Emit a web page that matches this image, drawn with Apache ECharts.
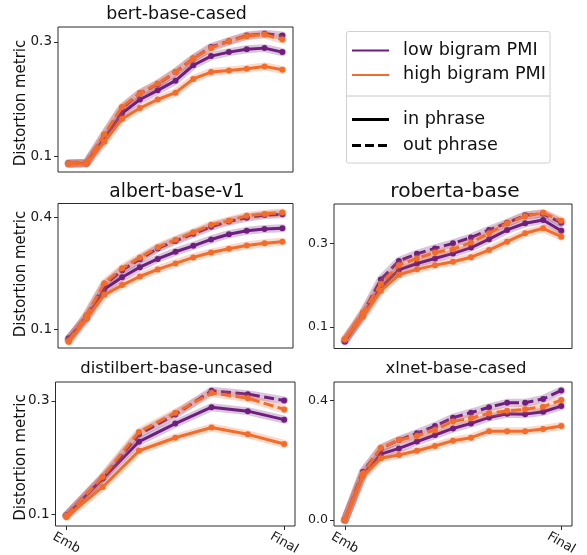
<!DOCTYPE html>
<html>
<head>
<meta charset="utf-8">
<script src="https://cdn.jsdelivr.net/npm/echarts@6/dist/echarts.min.js"></script>
<style>
  html, body { margin: 0; padding: 0; background: #fff; }
  #chart { width: 587px; height: 555px; }
</style>
</head>
<body>
<div id="chart"></div>
<script>
// Distortion per layer, from the embedding layer (Emb) to the final layer.
const bertLowIn   = [0.087, 0.087, 0.131, 0.175, 0.199, 0.215, 0.232, 0.259, 0.275, 0.282, 0.287, 0.289, 0.282];
const bertLowOut  = [0.087, 0.088, 0.137, 0.184, 0.210, 0.226, 0.247, 0.271, 0.291, 0.301, 0.311, 0.314, 0.311];
const bertHighIn  = [0.086, 0.087, 0.125, 0.165, 0.184, 0.199, 0.211, 0.235, 0.247, 0.250, 0.253, 0.257, 0.251];
const bertHighOut = [0.087, 0.088, 0.138, 0.186, 0.210, 0.227, 0.247, 0.271, 0.289, 0.301, 0.310, 0.313, 0.304];

const albertLowIn   = [0.077, 0.130, 0.208, 0.240, 0.267, 0.289, 0.308, 0.324, 0.341, 0.355, 0.364, 0.369, 0.371];
const albertLowOut  = [0.074, 0.137, 0.219, 0.259, 0.288, 0.317, 0.337, 0.356, 0.375, 0.389, 0.399, 0.406, 0.408];
const albertHighIn  = [0.068, 0.130, 0.193, 0.219, 0.242, 0.261, 0.277, 0.293, 0.306, 0.316, 0.325, 0.331, 0.335];
const albertHighOut = [0.070, 0.139, 0.224, 0.264, 0.293, 0.320, 0.340, 0.360, 0.380, 0.391, 0.404, 0.409, 0.413];

const robertaLowIn   = [0.067, 0.128, 0.195, 0.237, 0.252, 0.264, 0.276, 0.290, 0.310, 0.332, 0.348, 0.356, 0.330];
const robertaLowOut  = [0.066, 0.133, 0.214, 0.258, 0.275, 0.288, 0.300, 0.314, 0.332, 0.349, 0.367, 0.371, 0.349];
const robertaHighIn  = [0.071, 0.125, 0.187, 0.225, 0.238, 0.248, 0.256, 0.267, 0.284, 0.304, 0.324, 0.336, 0.316];
const robertaHighOut = [0.071, 0.135, 0.203, 0.248, 0.264, 0.278, 0.286, 0.302, 0.324, 0.348, 0.365, 0.373, 0.354];

const distilLowIn   = [0.097, 0.163, 0.228, 0.260, 0.289, 0.282, 0.267];
const distilLowOut  = [0.098, 0.164, 0.241, 0.276, 0.318, 0.312, 0.301];
const distilHighIn  = [0.095, 0.148, 0.212, 0.235, 0.253, 0.241, 0.224];
const distilHighOut = [0.097, 0.166, 0.245, 0.279, 0.314, 0.305, 0.285];

const xlnetLowIn   = [0.000, 0.151, 0.221, 0.240, 0.263, 0.285, 0.307, 0.324, 0.344, 0.356, 0.355, 0.363, 0.382];
const xlnetLowOut  = [0.000, 0.162, 0.240, 0.268, 0.291, 0.315, 0.343, 0.360, 0.378, 0.393, 0.393, 0.406, 0.434];
const xlnetHighIn  = [0.000, 0.147, 0.207, 0.218, 0.232, 0.248, 0.266, 0.276, 0.298, 0.298, 0.298, 0.305, 0.315];
const xlnetHighOut = [0.000, 0.156, 0.242, 0.268, 0.282, 0.302, 0.330, 0.341, 0.358, 0.366, 0.371, 0.380, 0.402];

// Tick labels
const bertTicks    = [0.1, 0.3];
const albertTicks  = [0.1, 0.4];
const robertaTicks = [0.1, 0.3];
const distilTicks  = [0.1, 0.3];
const xlnetTicks   = [0.0, 0.4];
const layerLabels  = ['Emb', 'Final'];

const modelNames = ['bert-base-cased', 'albert-base-v1', 'roberta-base', 'distilbert-base-uncased', 'xlnet-base-cased'];
const legendNames = ['low bigram PMI', 'high bigram PMI', 'in phrase', 'out phrase'];

const PURPLE = '#6e1f7e';
const ORANGE = '#f26d2b';
const FONT = 'DejaVu Sans';

const panels = [
  { name: modelNames[0], ticks: bertTicks, lines: [bertLowIn, bertLowOut, bertHighIn, bertHighOut],
    grid: { left: 58, top: 27, width: 235, height: 145 }, yMin: 0.072, yMax: 0.326, tickFont: 13.5,
    title: { x: 176.5, y: 14, size: 17.4 }, ylab: { x: 21.5, y: 103 }, bottom: false },
  { name: modelNames[1], ticks: albertTicks, lines: [albertLowIn, albertLowOut, albertHighIn, albertHighOut],
    grid: { left: 58, top: 203.5, width: 235, height: 144.5 }, yMin: 0.051, yMax: 0.437, tickFont: 13.5,
    title: { x: 177, y: 192.5, size: 18.7 }, ylab: { x: 21.5, y: 274 }, bottom: false },
  { name: modelNames[2], ticks: robertaTicks, lines: [robertaLowIn, robertaLowOut, robertaHighIn, robertaHighOut],
    grid: { left: 334, top: 204, width: 238, height: 144.5 }, yMin: 0.049, yMax: 0.394, tickFont: 12.5,
    title: { x: 455, y: 191.3, size: 20.2 }, ylab: null, bottom: false },
  { name: modelNames[3], ticks: distilTicks, lines: [distilLowIn, distilLowOut, distilHighIn, distilHighOut],
    grid: { left: 55.5, top: 382, width: 239.5, height: 144 }, yMin: 0.079, yMax: 0.3335, tickFont: 13.5,
    title: { x: 176.5, y: 368.3, size: 16.4 }, ylab: { x: 21.5, y: 457.5 }, bottom: true },
  { name: modelNames[4], ticks: xlnetTicks, lines: [xlnetLowIn, xlnetLowOut, xlnetHighIn, xlnetHighOut],
    grid: { left: 334, top: 382, width: 238, height: 144 }, yMin: -0.020, yMax: 0.4627, tickFont: 12.6,
    title: { x: 456, y: 368.3, size: 16.5 }, ylab: null, bottom: true }
];

// line order: low/in, low/out, high/in, high/out
const lineColors = [PURPLE, PURPLE, ORANGE, ORANGE];
const lineDashed = [false, true, false, true];

const grids = [], xAxes = [], yAxes = [], series = [], graphics = [];

panels.forEach((p, k) => {
  const last = p.lines[0].length - 1;
  const pad = last * 0.05;
  grids.push(Object.assign({
    show: true, borderColor: '#2b2b2b', borderWidth: 1, backgroundColor: 'transparent',
    containLabel: false, outerBoundsMode: 'none'
  }, p.grid));
  xAxes.push({
    type: 'value', gridIndex: k, min: -pad, max: last + pad, position: 'bottom',
    axisLine: { show: false, onZero: false }, splitLine: { show: false },
    axisTick: { show: p.bottom, inside: false, customValues: [0, last], length: 4, lineStyle: { color: '#2b2b2b' } },
    axisLabel: {
      show: p.bottom, customValues: [0, last], rotate: -30, align: 'center', verticalAlign: 'middle',
      margin: 17, fontFamily: FONT, fontSize: 13, color: '#1a1a1a',
      formatter: v => (v === 0 ? layerLabels[0] : layerLabels[1])
    }
  });
  yAxes.push({
    type: 'value', gridIndex: k, min: p.yMin, max: p.yMax, position: 'left',
    axisLine: { show: false, onZero: false }, splitLine: { show: false },
    axisTick: { show: true, inside: false, customValues: p.ticks, length: 4, lineStyle: { color: '#2b2b2b' } },
    axisLabel: { show: true, customValues: p.ticks, margin: 6, fontFamily: FONT, fontSize: p.tickFont, color: '#1a1a1a',
      formatter: v => v.toFixed(1) }
  });

  p.lines.forEach((vals, j) => {
    const data = vals.map((v, i) => [i, v]);
    // translucent spread band behind each line
    series.push({
      type: 'line', xAxisIndex: k, yAxisIndex: k, data: data, symbol: 'none', silent: true,
      lineStyle: { color: lineColors[j], width: 8, opacity: 0.26, cap: 'round', join: 'round' },
      z: 2 + j * 2
    });
    series.push({
      type: 'line', xAxisIndex: k, yAxisIndex: k, data: data, symbol: 'circle', symbolSize: 6, silent: true,
      itemStyle: { color: lineColors[j] },
      lineStyle: { color: lineColors[j], width: 3, type: lineDashed[j] ? [10, 4.5] : 'solid', join: 'round' },
      z: 3 + j * 2
    });
  });

  graphics.push({
    type: 'text', x: p.title.x, y: p.title.y,
    style: { text: p.name, fontFamily: FONT, fontSize: p.title.size, fill: '#111', align: 'center', verticalAlign: 'middle' }
  });
  if (p.ylab) {
    graphics.push({
      type: 'text', x: p.ylab.x, y: p.ylab.y, rotation: Math.PI / 2,
      style: { text: 'Distortion metric', fontFamily: FONT, fontSize: 15, fill: '#111', align: 'center', verticalAlign: 'middle' }
    });
  }
});

// Legend box: colour group, separator, line-style group
graphics.push({
  type: 'rect', shape: { x: 346.5, y: 31.5, width: 203.5, height: 131.5, r: 2 },
  style: { fill: '#fff', stroke: '#d0d0d0', lineWidth: 1 }, z: 50
});
graphics.push({
  type: 'line', shape: { x1: 346.5, y1: 96, x2: 550, y2: 96 },
  style: { stroke: '#c8c8c8', lineWidth: 1 }, z: 51
});
const legendRows = [
  { y: 50.5, color: PURPLE, dash: null, width: 2.2 },
  { y: 75, color: ORANGE, dash: null, width: 2.2 },
  { y: 119.5, color: '#000', dash: null, width: 3 },
  { y: 145.5, color: '#000', dash: [9, 4], width: 3 }
];
legendRows.forEach((r, i) => {
  graphics.push({
    type: 'line', shape: { x1: 352, y1: r.y, x2: 389, y2: r.y },
    style: { stroke: r.color, lineWidth: r.width, lineDash: r.dash }, z: 52
  });
  graphics.push({
    type: 'text', x: 403, y: r.y - 0.5,
    style: { text: legendNames[i], fontFamily: FONT, fontSize: 17.6, fill: '#111', align: 'left', verticalAlign: 'middle' }, z: 52
  });
});

const chart = echarts.init(document.getElementById('chart'), null, { renderer: 'canvas' });
chart.setOption({
  animation: false,
  backgroundColor: '#fff',
  grid: grids,
  xAxis: xAxes,
  yAxis: yAxes,
  series: series,
  graphic: graphics
});
</script>
</body>
</html>
